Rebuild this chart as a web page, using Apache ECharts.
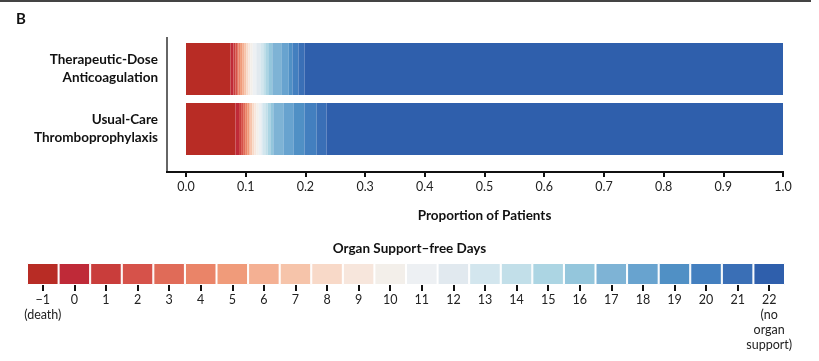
<!DOCTYPE html>
<html><head><meta charset="utf-8">
<script src="https://cdn.jsdelivr.net/npm/echarts@6/dist/echarts.min.js"></script>
<style>html,body{margin:0;padding:0;background:#fff}#c{width:819px;height:361px}</style>
</head><body><div id="c"></div>
<script>
var groups = ["Therapeutic-Dose\nAnticoagulation", "Usual-Care\nThromboprophylaxis"];
var days = ["−1","0","1","2","3","4","5","6","7","8","9","10","11","12","13","14","15","16","17","18","19","20","21","22"];
var dayNotes = {"−1":"(death)", "22":"(no\norgan\nsupport)"};
var therapeutic = [0.0747,0.005,0.0034,0.0025,0.0025,0.0025,0.0034,0.0034,0.0034,0.0034,0.0034,0.0042,0.0059,0.0067,0.005,0.0034,0.005,0.0067,0.0151,0.0126,0.0059,0.0101,0.0101,0.802];
var usualCare = [0.083,0.0059,0.0034,0.0034,0.0034,0.0034,0.0034,0.0025,0.0025,0.0034,0.0034,0.0042,0.0042,0.0017,0.005,0.0042,0.0042,0.005,0.0168,0.0168,0.0185,0.0201,0.0168,0.7648];
var xTicks = [0,0.1,0.2,0.3,0.4,0.5,0.6,0.7,0.8,0.9,1.0];
var colors = ["#b82c25","#bf2a38","#c93d3b","#d6524a","#e06b58","#ea8468","#f09b7a","#f4b093","#f6c4aa","#f8d9c8","#f7e6dc","#f3efea","#edf0f3","#e1e9ef","#d3e6ee","#c2dfe9","#acd5e3","#94c6dc","#7eb3d5","#68a3cf","#5090c5","#437fbf","#3a6fb6","#2f5fac"];

var FONT = "Lato";
var series = days.map(function(d, i){
  return {type:'bar', stack:'s', name:d, xAxisIndex:0, yAxisIndex:0,
    barWidth:52, itemStyle:{color:colors[i]}, data:[therapeutic[i], usualCare[i]], silent:true};
});
series.push({type:'bar', xAxisIndex:1, yAxisIndex:1, barCategoryGap:0, silent:true,
  data: days.map(function(d,i){return {value:1, itemStyle:{color:colors[i], borderColor:'#fff', borderWidth:1}};})});

var chart = echarts.init(document.getElementById('c'), null, {renderer:'canvas'});
chart.setOption({
  animation:false,
  textStyle:{fontFamily:FONT},
  title:[{text:'B', left:11, top:7, textStyle:{fontFamily:FONT, fontSize:15, fontWeight:'bold', color:'#111'}},
         {text:'Organ Support–free Days', left:'center', top:237, textStyle:{fontFamily:FONT, fontSize:13.5, fontWeight:'bold', color:'#111'}}],
  grid:[{left:186, right:36, top:39, height:120},
        {left:27, right:34, top:263, height:22}],
  xAxis:[{type:'value', gridIndex:0, min:0, max:1, interval:0.1, offset:13,
          axisLine:{show:false}, splitLine:{show:false},
          axisTick:{show:true, length:5, lineStyle:{color:'#111', width:2}},
          axisLabel:{margin:8, fontSize:12.5, color:'#222', fontFamily:FONT,
            formatter:function(v){ var m = xTicks.filter(function(t){return Math.abs(t-v)<1e-9;}); return m.length? m[0].toFixed(1):''; }},
          name:'Proportion of Patients', nameLocation:'middle', nameGap:37,
          nameTextStyle:{fontSize:13.5, fontWeight:'bold', color:'#111', fontFamily:FONT}},
         {type:'category', gridIndex:1, data:days,
          axisLine:{show:false}, axisTick:{show:true, alignWithLabel:true, length:6, lineStyle:{color:'#111', width:2}},
          axisLabel:{margin:7, fontSize:12.5, color:'#222', lineHeight:15, fontFamily:FONT, interval:0,
            formatter:function(v){ return dayNotes[v] ? v + '\n' + dayNotes[v] : v; }}}],
  yAxis:[{type:'category', gridIndex:0, data:groups, inverse:true,
          axisLine:{show:false}, axisTick:{show:false},
          axisLabel:{margin:28, fontSize:13.5, fontWeight:'bold', color:'#111', lineHeight:18, align:'right', fontFamily:FONT}},
         {type:'value', gridIndex:1, min:0, max:1, show:false}],
  graphic:[
    {type:'line', shape:{x1:0, y1:1, x2:811, y2:1}, style:{stroke:'#444', lineWidth:2}},
    {type:'line', shape:{x1:167, y1:37, x2:167, y2:173}, style:{stroke:'#666', lineWidth:2}},
    {type:'line', shape:{x1:166, y1:172, x2:784, y2:172}, style:{stroke:'#111', lineWidth:2}}
  ],
  series:series
});
</script></body></html>
